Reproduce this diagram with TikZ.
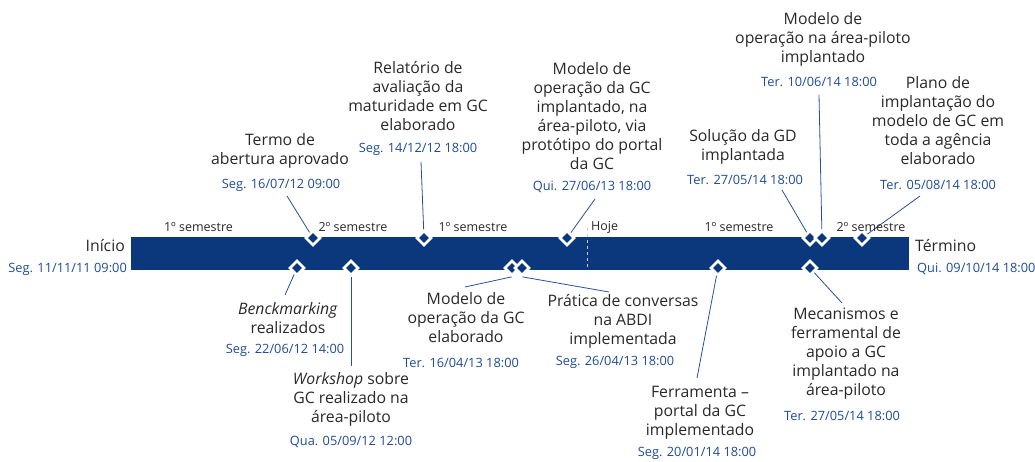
\documentclass[tikz,border=0pt]{standalone}
\usepackage{fontspec}
\setmainfont{Open Sans}
\usetikzlibrary{shapes.geometric,backgrounds}
\definecolor{barblue}{RGB}{11,55,125}
\definecolor{dateblue}{RGB}{30,75,150}
\definecolor{linkblue}{RGB}{40,80,150}
\definecolor{txtgray}{RGB}{40,40,40}
\begin{document}
\begin{tikzpicture}[x=1pt,y=-1pt,
  lbl/.style={align=center, font=\fontsize{15.8}{19}\selectfont, text=txtgray, inner sep=0pt},
  dt/.style={font=\fontsize{12.8}{15}\selectfont, text=dateblue, inner sep=0pt},
  sem/.style={font=\fontsize{12.5}{15}\selectfont, text=txtgray, inner sep=0pt},
  mk/.style={shape=diamond, draw=white, fill=barblue, line width=2.6pt, minimum size=15pt, inner sep=0pt},
  conn/.style={draw=linkblue, line width=0.8pt}]
\useasboundingbox (0,0) rectangle (1035,462);

% diamonds
\node[mk] (d1) at (313,238) {};
\node[mk] (d2) at (424,238) {};
\node[mk] (d3) at (567,238) {};
\node[mk] (d4) at (810,238) {};
\node[mk] (d5) at (822,238) {};
\node[mk] (d6) at (862,238) {};
\node[mk] (b1) at (297,268) {};
\node[mk] (b2) at (351,268) {};
\node[mk] (b3) at (512,268) {};
\node[mk] (b4) at (522,268) {};
\node[mk] (b5) at (718,268) {};
\node[mk] (b6) at (810,268) {};

% connector free ends
\coordinate (c1) at (287,196);
\coordinate (c2) at (421,162);
\coordinate (c3) at (595,199);
\coordinate (c4) at (819,95);
\coordinate (c5) at (782,190);
\coordinate (c6) at (920,196);
\coordinate (e1) at (285,295);
\coordinate (e2) at (351,366);
\coordinate (e3) at (465,287);
\coordinate (e4) at (609,292);
\coordinate (e5) at (697,378);
\coordinate (e6) at (842,303);

\begin{pgfonlayer}{background}
\fill[barblue] (131,237) rectangle (909,270);
\draw[gray!40, dashed, line width=0.7pt] (587,228) -- (587,270);
\draw[conn] (c1) -- (d1);
\draw[conn] (c2) -- (d2);
\draw[conn] (c3) -- (d3);
\draw[conn] (c4) -- (d5);
\draw[conn] (c5) -- (d4);
\draw[conn] (c6) -- (d6);
\draw[conn] (b1) -- (e1);
\draw[conn] (b2) -- (e2);
\draw[conn] (b3.south) -- (e3);
\draw[conn] (b4.south) -- (e4);
\draw[conn] (b5) -- (e5);
\draw[conn] (b6) -- (e6);
\end{pgfonlayer}

% semester labels
\node[sem] (s1l) at (198.5,227) {1º semestre};
\node[sem] (s2l) at (353,227) {2º semestre};
\node[sem] (s3l) at (473,227) {1º semestre};
\node[sem, anchor=west] (hoje) at (591,227) {Hoje};
\node[sem] (s4l) at (739,227) {1º semestre};
\node[sem] (s5l) at (871,227) {2º semestre};

% start / end
\node[lbl, anchor=east] (ini) at (125,246) {Início};
\node[dt, anchor=east] (inid) at (127,269) {Seg. 11/11/11 09:00};
\node[lbl, anchor=west] (fim) at (915,246) {Término};
\node[dt, anchor=west] (fimd) at (917,269) {Qui. 09/10/14 18:00};

% top labels
\node[lbl] (t1) at (280,150.5) {Termo de\\abertura aprovado};
\node[dt] (t1d) at (281,185) {Seg. 16/07/12 09:00};
\node[lbl] (t2) at (418,96) {Relatório de\\avaliação da\\maturidade em GC\\elaborado};
\node[dt] (t2d) at (418,149) {Seg. 14/12/12 18:00};
\node[lbl] (t3) at (592,116) {Modelo de\\operação da GC\\implantado, na\\área-piloto, via\\protótipo do portal\\da GC};
\node[dt] (t3d) at (592,187) {Qui. 27/06/13 18:00};
\node[lbl] (t4) at (823,39) {Modelo de\\operação na área-piloto\\implantado};
\node[dt] (t4d) at (819,82) {Ter. 10/06/14 18:00};
\node[lbl] (t5) at (743,146.5) {Solução da GD\\implantada};
\node[dt] (t5d) at (745,180) {Ter. 27/05/14 18:00};
\node[lbl] (t6) at (938,120.5) {Plano de\\implantação do\\modelo de GC em\\toda a agência\\elaborado};
\node[dt] (t6d) at (938,185) {Ter. 05/08/14 18:00};

% bottom labels
\node[lbl] (u1) at (288,318) {\textit{Benckmarking}\\realizados};
\node[dt] (u1d) at (285,350) {Seg. 22/06/12 14:00};
\node[lbl] (u2) at (351,399.5) {\textit{Workshop} sobre\\GC realizado na\\área-piloto};
\node[dt] (u2d) at (351,442) {Qua. 05/09/12 12:00};
\node[lbl] (u3) at (466,318) {Modelo de\\operação da GC\\elaborado};
\node[dt] (u3d) at (461,363) {Ter. 16/04/13 18:00};
\node[lbl] (u4) at (623,321) {Prática de conversas\\na ABDI\\implementada};
\node[dt] (u4d) at (615,362) {Seg. 26/04/13 18:00};
\node[lbl] (u5) at (700,412.5) {Ferramenta –\\portal da GC\\implementado};
\node[dt] (u5d) at (697,453) {Seg. 20/01/14 18:00};
\node[lbl] (u6) at (846,353.5) {Mecanismos e\\ferramental de\\apoio a GC\\implantado na\\área-piloto};
\node[dt] (u6d) at (842,416) {Ter. 27/05/14 18:00};
\end{tikzpicture}
\end{document}
